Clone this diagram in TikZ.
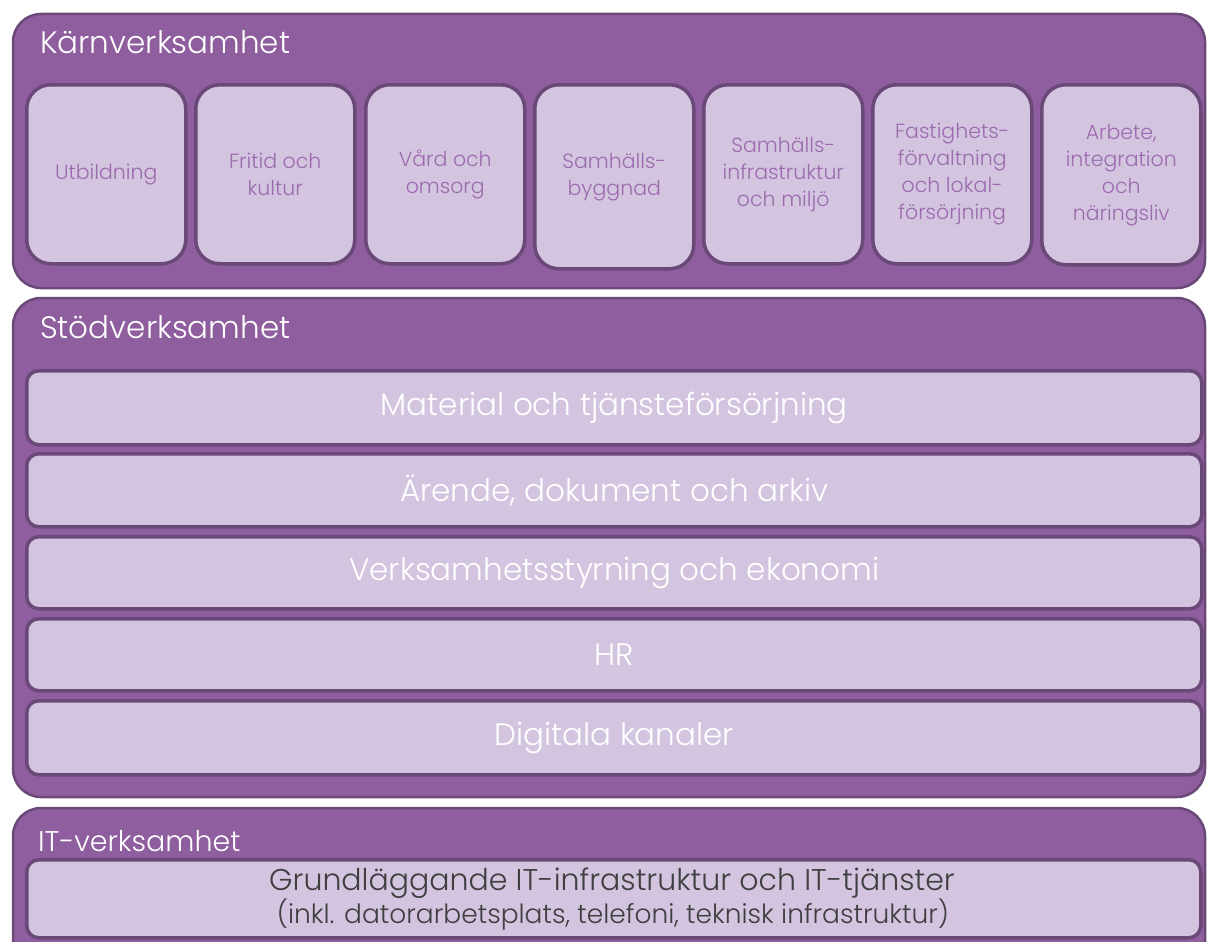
\documentclass[tikz,border=0pt]{standalone}
\usepackage{fontspec}
\setmainfont{Poppins Light}
\definecolor{outerfill}{HTML}{8F5E9F}
\definecolor{innerfill}{HTML}{D3C4E0}
\definecolor{edge}{HTML}{6A4878}
\definecolor{kaerntext}{HTML}{9B6BAE}
\definecolor{ittext}{HTML}{3F3F3F}
\tikzset{
  outerbox/.style={draw=edge, fill=outerfill, line width=2.5pt, rounded corners=28pt},
  tilebox/.style={draw=edge, fill=innerfill, line width=3.5pt, rounded corners=24pt, inner sep=0pt, minimum width=159pt, anchor=north west},
  rowbox/.style={draw=edge, fill=innerfill, line width=3.5pt, rounded corners=12pt, inner sep=0pt, anchor=north west},
  header/.style={anchor=base west, text=white, font=\fontsize{31}{34}\selectfont, inner sep=0pt},
  tiletext/.style={text=kaerntext, align=center, font=\fontsize{20.5}{27}\selectfont, inner sep=0pt},
  rowtext/.style={text=white, font=\fontsize{31}{34}\selectfont, inner sep=0pt},
  ittextstyle/.style={text=ittext, inner sep=0pt, anchor=base},
}
\begin{document}
\begin{tikzpicture}[x=1pt,y=-1pt]
\useasboundingbox (0,0) rectangle (1207,942);
\clip (0,0) rectangle (1207,942);
% outer boxes
\draw[outerbox] (13,14) rectangle (1205,288);
\node[header] (kh) at (40,53) {Kärnverksamhet};
\draw[outerbox] (13,298) rectangle (1205,797);
\node[header] (sh) at (40,338) {Stödverksamhet};
\draw[outerbox] (13,808) rectangle (1205,975);
\node[header, font=\fontsize{28.5}{34}\selectfont] (ih) at (38,851) {IT-verksamhet};
% core tiles
\node[tilebox, minimum height=179pt] (t1) at (25,83) {};
\node[tilebox, minimum height=179pt] (t2) at (194,83) {};
\node[tilebox, minimum height=179pt] (t3) at (364,83) {};
\node[tilebox, minimum height=184pt] (t4) at (533,83) {};
\node[tilebox, minimum height=179pt] (t5) at (702,83) {};
\node[tilebox, minimum height=179pt] (t6) at (871,83) {};
\node[tilebox, minimum height=180pt] (t7) at (1040,83) {};
\node[tiletext] (l1) at (t1.center) {Utbildning};
\node[tiletext] (l2) at (t2.center) {Fritid och\\kultur};
\node[tiletext] (l3) at (t3.center) {Vård och\\omsorg};
\node[tiletext] (l4) at (t4.center) {Samhälls-\\byggnad};
\node[tiletext] (l5) at (t5.center) {Samhälls-\\infrastruktur\\och miljö};
\node[tiletext] (l6) at (t6.center) {Fastighets-\\förvaltning\\och lokal-\\försörjning};
\node[tiletext] (l7) at (t7.center) {Arbete,\\integration\\och\\näringsliv};
% support rows
\node[rowbox, minimum width=1175pt, minimum height=74pt] (r1) at (25,369) {};
\node[rowbox, minimum width=1175pt, minimum height=73pt] (r2) at (25,452) {};
\node[rowbox, minimum width=1175pt, minimum height=72pt] (r3) at (25,535) {};
\node[rowbox, minimum width=1175pt, minimum height=72pt] (r4) at (25,617) {};
\node[rowbox, minimum width=1175pt, minimum height=74pt] (r5) at (25,699) {};
\node[rowtext] (s1) at (r1.center) {Material och tjänsteförsörjning};
\node[rowtext] (s2) at (r2.center) {Ärende, dokument och arkiv};
\node[rowtext] (s3) at (r3.center) {Verksamhetsstyrning och ekonomi};
\node[rowtext] (s4) at (r4.center) {HR};
\node[rowtext] (s5) at (r5.center) {Digitala kanaler};
% IT row
\node[rowbox, minimum width=1174pt, minimum height=78pt] (it) at (25,858) {};
\node[ittextstyle, font=\fontsize{30}{32}\selectfont] (it1) at (612,890) {Grundläggande IT-infrastruktur och IT-tjänster};
\node[ittextstyle, font=\fontsize{26.5}{28}\selectfont] (it2) at (613,923) {(inkl. datorarbetsplats, telefoni, teknisk infrastruktur)};
\end{tikzpicture}
\end{document}
